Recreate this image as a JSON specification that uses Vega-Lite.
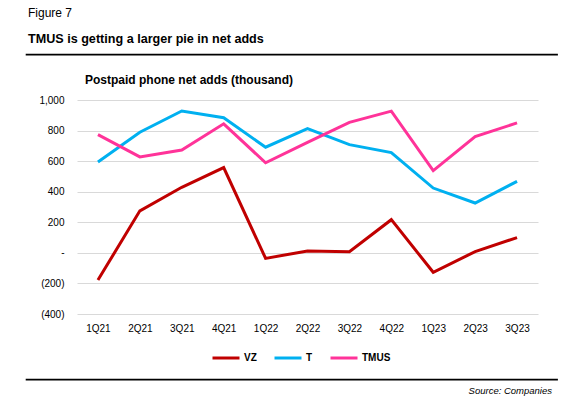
{
  "$schema": "https://vega.github.io/schema/vega-lite/v6.json",
  "padding": {"left": 25, "top": 6, "right": 17, "bottom": 0},
  "background": "white",
  "config": {"font": "Liberation Sans", "view": {"stroke": null}},
  "spacing": 18,
  "vconcat": [
    {
      "width": 531,
      "height": 0.5,
      "view": {"stroke": "#000000", "strokeWidth": 1.2},
      "title": {"text": "Figure 7", "subtitle": "TMUS is getting a larger pie in net adds", "anchor": "start", "fontSize": 12, "fontWeight": "normal", "color": "#000000", "subtitleFont": "Liberation Sans", "subtitleFontSize": 12.6, "subtitleFontWeight": "bold", "subtitleColor": "#000000", "subtitlePadding": 13, "offset": 7, "dx": 2},
      "data": {"values": []},
      "mark": "point",
      "encoding": {}
    },
    {
      "spacing": 45,
      "vconcat": [
        {
          "spacing": 0,
          "align": "none",
          "hconcat": [
            {
              "width": 1,
              "height": 1,
              "data": {"values": []},
              "mark": "point",
              "encoding": {}
            },
            {
              "width": 461,
              "height": 214,
              "title": {"text": "Postpaid phone net adds (thousand)", "anchor": "start", "frame": "group", "dx": 8, "fontSize": 12, "fontWeight": "bold", "color": "#000000", "offset": 8},
              "data": {"values": [
                {"quarter": "1Q21", "series": "VZ", "value": -178},
                {"quarter": "2Q21", "series": "VZ", "value": 275},
                {"quarter": "3Q21", "series": "VZ", "value": 429},
                {"quarter": "4Q21", "series": "VZ", "value": 558},
                {"quarter": "1Q22", "series": "VZ", "value": -36},
                {"quarter": "2Q22", "series": "VZ", "value": 12},
                {"quarter": "3Q22", "series": "VZ", "value": 8},
                {"quarter": "4Q22", "series": "VZ", "value": 217},
                {"quarter": "1Q23", "series": "VZ", "value": -127},
                {"quarter": "2Q23", "series": "VZ", "value": 8},
                {"quarter": "3Q23", "series": "VZ", "value": 100},
                {"quarter": "1Q21", "series": "T", "value": 595},
                {"quarter": "2Q21", "series": "T", "value": 789},
                {"quarter": "3Q21", "series": "T", "value": 928},
                {"quarter": "4Q21", "series": "T", "value": 884},
                {"quarter": "1Q22", "series": "T", "value": 691},
                {"quarter": "2Q22", "series": "T", "value": 813},
                {"quarter": "3Q22", "series": "T", "value": 708},
                {"quarter": "4Q22", "series": "T", "value": 656},
                {"quarter": "1Q23", "series": "T", "value": 424},
                {"quarter": "2Q23", "series": "T", "value": 326},
                {"quarter": "3Q23", "series": "T", "value": 468},
                {"quarter": "1Q21", "series": "TMUS", "value": 773},
                {"quarter": "2Q21", "series": "TMUS", "value": 628},
                {"quarter": "3Q21", "series": "TMUS", "value": 673},
                {"quarter": "4Q21", "series": "TMUS", "value": 844},
                {"quarter": "1Q22", "series": "TMUS", "value": 589},
                {"quarter": "2Q22", "series": "TMUS", "value": 723},
                {"quarter": "3Q22", "series": "TMUS", "value": 854},
                {"quarter": "4Q22", "series": "TMUS", "value": 927},
                {"quarter": "1Q23", "series": "TMUS", "value": 538},
                {"quarter": "2Q23", "series": "TMUS", "value": 760},
                {"quarter": "3Q23", "series": "TMUS", "value": 850}
              ]},
              "mark": {"type": "line", "strokeWidth": 3},
              "encoding": {
                "x": {"field": "quarter", "type": "ordinal", "sort": ["1Q21","2Q21","3Q21","4Q21","1Q22","2Q22","3Q22","4Q22","1Q23","2Q23","3Q23"], "scale": {"type": "point", "padding": 0.5}, "axis": {"title": null, "labelAngle": 0, "ticks": false, "domain": false, "grid": false, "labelFontSize": 10, "labelColor": "#000000", "labelPadding": 9}},
                "y": {"field": "value", "type": "quantitative", "scale": {"domain": [-400, 1000], "nice": false, "zero": false}, "axis": {"title": null, "values": [-400, -200, 0, 200, 400, 600, 800, 1000], "labelExpr": "datum.value == 0 ? '-' : (datum.value < 0 ? '(' + format(-datum.value, ',') + ')' : format(datum.value, ','))", "ticks": false, "domain": false, "gridColor": "#d9d9d9", "gridWidth": 1, "labelPadding": 13, "minExtent": 50, "labelFontSize": 10, "labelColor": "#000000"}},
                "color": {"field": "series", "type": "nominal", "sort": ["VZ", "T", "TMUS"], "scale": {"domain": ["VZ", "T", "TMUS"], "range": ["#C00000", "#00B0F0", "#FF3399"]}, "legend": {"title": null, "orient": "none", "direction": "horizontal", "legendX": 185, "legendY": 289, "padding": 0, "symbolType": "stroke", "symbolSize": 729, "symbolStrokeWidth": 3, "labelFontSize": 10, "labelFontWeight": "bold", "labelColor": "#000000", "columnPadding": 11, "labelOffset": 3}}
              }
            }
          ]
        },
        {
          "width": 531,
          "height": 0.5,
          "view": {"stroke": "#000000", "strokeWidth": 1.2},
          "title": {"text": "Source: Companies", "orient": "bottom", "anchor": "end", "fontSize": 9.5, "fontStyle": "italic", "fontWeight": "normal", "color": "#000000", "offset": 6, "dx": -5},
          "data": {"values": []},
          "mark": "point",
          "encoding": {}
        }
      ]
    }
  ]
}
